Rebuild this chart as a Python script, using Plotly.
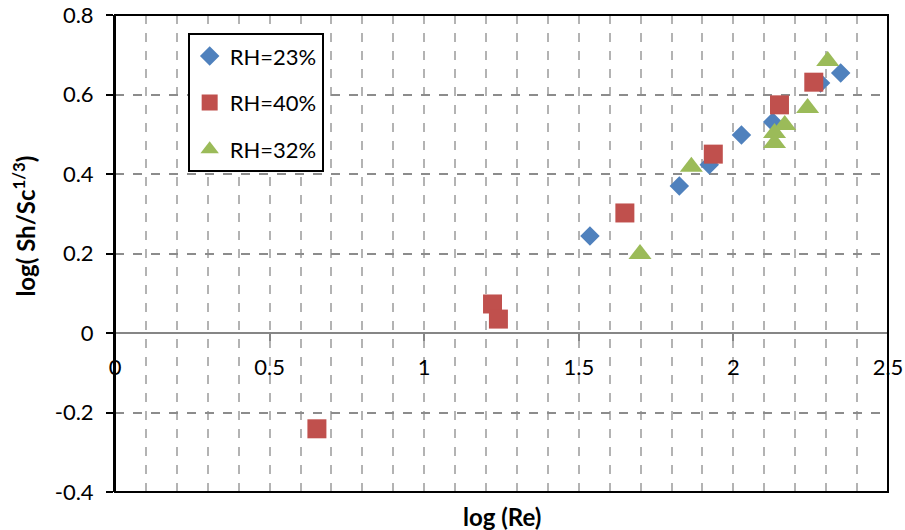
import plotly.graph_objects as go

# Data
rh23_x = [1.536, 1.825, 1.922, 2.026, 2.127, 2.282, 2.347]
rh23_y = [0.244, 0.370, 0.423, 0.498, 0.531, 0.629, 0.654]

rh40_x = [0.653, 1.221, 1.240, 1.649, 1.935, 2.149, 2.260]
rh40_y = [-0.241, 0.073, 0.035, 0.302, 0.450, 0.574, 0.631]

rh32_x = [1.698, 1.864, 2.133, 2.133, 2.166, 2.240, 2.305]
rh32_y = [0.199, 0.418, 0.478, 0.503, 0.523, 0.566, 0.684]

series_names = ["RH=23%", "RH=40%", "RH=32%"]
x_ticks = [0, 0.5, 1, 1.5, 2, 2.5]
x_ticktext = ["0", "0.5", "1", "1.5", "2", "2.5"]
y_ticks = [-0.4, -0.2, 0, 0.2, 0.4, 0.6, 0.8]
y_ticktext = ["-0.4", "-0.2", "0", "0.2", "0.4", "0.6", "0.8"]

FONT = "Lato"
fig = go.Figure()
fig.add_trace(go.Scatter(x=rh23_x, y=rh23_y, mode="markers", name=series_names[0],
                         legendgroup="a",
                         marker=dict(symbol="diamond", size=15, color="#4f81bd",
                                     line=dict(width=0))))
fig.add_trace(go.Scatter(x=rh40_x, y=rh40_y, mode="markers", name=series_names[1],
                         legendgroup="b",
                         marker=dict(symbol="square", size=19, color="#c0504d",
                                     line=dict(width=0))))
fig.add_trace(go.Scatter(x=rh32_x, y=rh32_y, mode="markers", name=series_names[2],
                         legendgroup="c",
                         marker=dict(symbol="triangle-up", size=20, color="#9bbb59",
                                     line=dict(width=0))))

fig.update_layout(
    width=905, height=530,
    margin=dict(l=115, r=17, t=15, b=38),
    plot_bgcolor="white", paper_bgcolor="white",
    font=dict(family=FONT, size=22, color="black"),
    showlegend=True,
    legend=dict(x=0.094, y=0.962, xanchor="left", yanchor="top",
                bgcolor="white", bordercolor="black", borderwidth=2,
                font=dict(family=FONT, size=22, color="black"),
                tracegroupgap=15),
    xaxis=dict(range=[0, 2.5], tickvals=x_ticks, ticktext=x_ticktext,
               anchor="free", position=1/3, automargin=False,
               showline=True, linecolor="#868686", linewidth=2,
               ticks="outside", ticklen=7, tickwidth=1.5, tickcolor="#868686",
               ticklabelstandoff=8,
               showgrid=True, gridcolor="#b3b3b3", gridwidth=1.5, griddash="dash",
               minor=dict(dtick=0.1, tick0=0, showgrid=True, gridcolor="#b3b3b3",
                          gridwidth=1.5, griddash="dash", ticks=""),
               zeroline=False, tickfont=dict(size=22)),
    yaxis=dict(range=[-0.4, 0.8], tickvals=y_ticks, ticktext=y_ticktext,
               automargin=False,
               showline=True, linecolor="black", linewidth=2,
               ticks="outside", ticklen=7, tickwidth=1.5, tickcolor="black",
               ticklabelstandoff=8,
               showgrid=True, gridcolor="#8c8c8c", gridwidth=2, griddash="dash",
               zeroline=False, tickfont=dict(size=22)),
    shapes=[dict(type="rect", xref="paper", yref="paper", x0=0, x1=1, y0=0, y1=1,
                 line=dict(color="black", width=2), layer="above")],
    annotations=[
        dict(text="<b>log (Re)</b>", xref="paper", yref="paper", x=0.5, y=-0.052,
             xanchor="center", yanchor="middle", showarrow=False,
             font=dict(family=FONT, size=24)),
        dict(text="<b>log( Sh/Sc<sup>1/3</sup>)</b>", xref="paper", yref="paper",
             x=-0.118, y=0.558, xanchor="center", yanchor="middle", textangle=-90,
             showarrow=False, font=dict(family=FONT, size=24)),
    ],
)

fig.write_html("out.html")
